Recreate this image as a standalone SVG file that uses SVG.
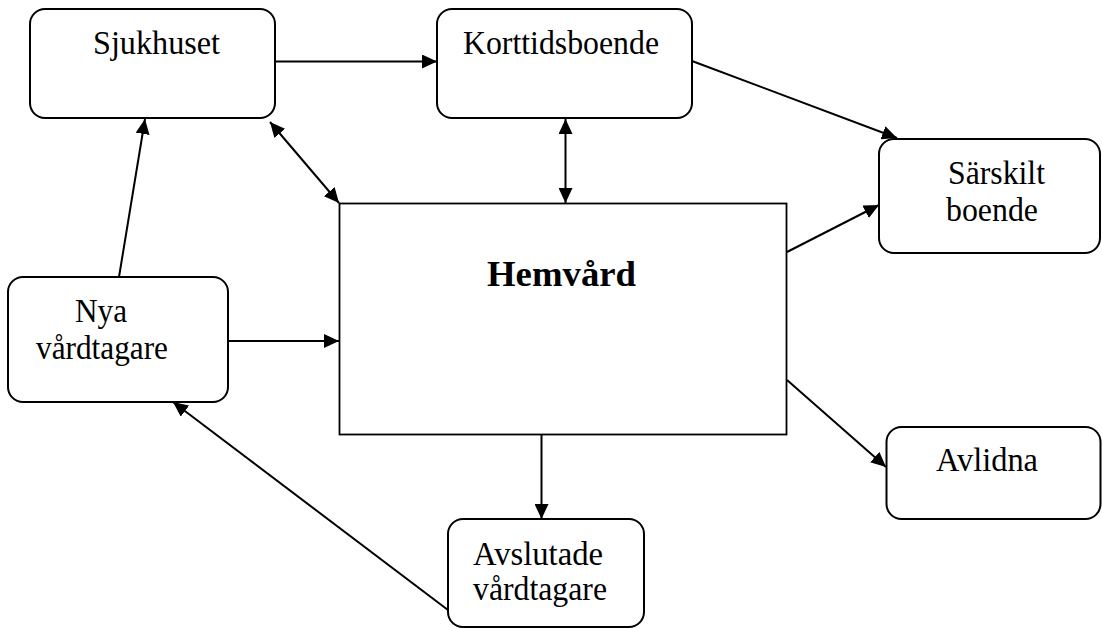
<svg xmlns="http://www.w3.org/2000/svg" width="1102" height="628" viewBox="0 0 1102 628">
<style>
.box{fill:#fff;stroke:#000;stroke-width:2}
.t{font-family:"Liberation Serif","Times New Roman",serif;font-size:34px;fill:#000}
.b{font-weight:bold;font-size:36px}
.c{stroke:#000;stroke-width:2;fill:none}
</style>
<defs>
<marker id="ah" viewBox="0 0 15 14" refX="15" refY="7" markerWidth="15" markerHeight="14" markerUnits="userSpaceOnUse" orient="auto-start-reverse">
<path d="M0,0 L15,7 L0,14 z" fill="#000"/>
</marker>
</defs>
<rect width="1102" height="628" fill="#fff"/>
<g id="connectors">
<line class="c" x1="275" y1="61.5" x2="437" y2="61.5" marker-end="url(#ah)"/>
<line class="c" x1="119" y1="277" x2="145" y2="119" marker-end="url(#ah)"/>
<line class="c" x1="270" y1="122" x2="339" y2="203" marker-start="url(#ah)" marker-end="url(#ah)"/>
<line class="c" x1="565.5" y1="119" x2="565.5" y2="203" marker-start="url(#ah)" marker-end="url(#ah)"/>
<line class="c" x1="692" y1="61" x2="897" y2="138" marker-end="url(#ah)"/>
<line class="c" x1="787" y1="252" x2="879" y2="205" marker-end="url(#ah)"/>
<line class="c" x1="228" y1="341" x2="339" y2="341" marker-end="url(#ah)"/>
<line class="c" x1="787" y1="380" x2="886" y2="467" marker-end="url(#ah)"/>
<line class="c" x1="541.5" y1="435" x2="541.5" y2="519" marker-end="url(#ah)"/>
<line class="c" x1="448" y1="610" x2="173" y2="402" marker-end="url(#ah)"/>
</g>
<g id="sjukhuset">
<rect class="box" x="30" y="9" width="245" height="109" rx="15"/>
<text class="t" x="93" y="54" textLength="127" lengthAdjust="spacingAndGlyphs">Sjukhuset</text>
</g>
<g id="korttidsboende">
<rect class="box" x="437" y="9" width="255" height="109" rx="15"/>
<text class="t" x="463" y="54" textLength="196" lengthAdjust="spacingAndGlyphs">Korttidsboende</text>
</g>
<g id="sarskilt">
<rect class="box" x="879" y="139" width="221" height="114" rx="15"/>
<text class="t" x="948" y="184" textLength="97" lengthAdjust="spacingAndGlyphs">Särskilt</text>
<text class="t" x="946" y="221" textLength="92" lengthAdjust="spacingAndGlyphs">boende</text>
</g>
<g id="hemvard">
<rect class="box" x="339.5" y="203.5" width="447" height="231" style="stroke-width:1.8"/>
<text class="t b" x="487" y="286" textLength="149" lengthAdjust="spacingAndGlyphs">Hemvård</text>
</g>
<g id="nya">
<rect class="box" x="8" y="277" width="220" height="125" rx="15"/>
<text class="t" x="75" y="322" textLength="52" lengthAdjust="spacingAndGlyphs">Nya</text>
<text class="t" x="36" y="359" textLength="132" lengthAdjust="spacingAndGlyphs">vårdtagare</text>
</g>
<g id="avslutade">
<rect class="box" x="448" y="519" width="196" height="108" rx="15"/>
<text class="t" x="473" y="565" textLength="130" lengthAdjust="spacingAndGlyphs">Avslutade</text>
<text class="t" x="473" y="600" textLength="134" lengthAdjust="spacingAndGlyphs">vårdtagare</text>
</g>
<g id="avlidna">
<rect class="box" x="886.5" y="427" width="214" height="92" rx="15"/>
<text class="t" x="936" y="471" textLength="102" lengthAdjust="spacingAndGlyphs">Avlidna</text>
</g>
</svg>
